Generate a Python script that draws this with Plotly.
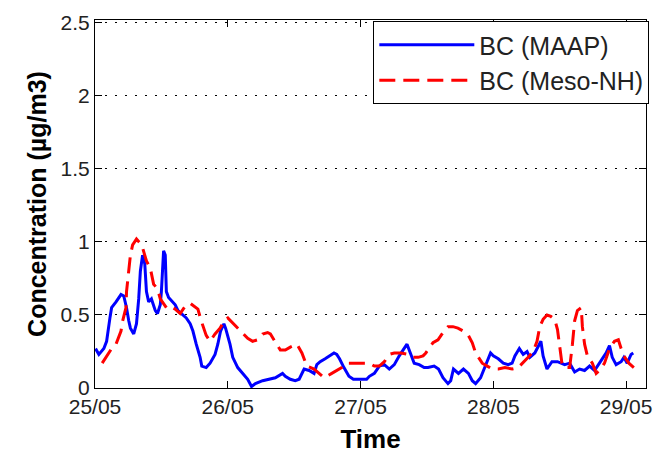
import plotly.graph_objects as go

# Time in hours since 25/05 00:00
maap_t = [0.1, 0.7, 1.6, 2.1, 2.7, 3.0, 3.8, 4.7, 5.2, 5.7, 6.1, 6.4, 7.0, 7.5, 7.9, 8.2, 8.6, 9.0, 9.3, 9.7,
          10.2, 10.9, 11.3, 11.8, 12.0, 12.4, 12.7, 12.9, 13.3, 13.8, 14.5, 15.0, 15.6, 16.5, 17.2, 17.7, 18.3,
          19.0, 19.3, 20.1, 20.8, 21.7, 22.2, 22.7, 23.3, 23.6, 24.4, 24.9, 25.8, 26.7, 27.6, 28.3, 29.0, 30.3,
          31.5, 32.6, 33.9, 34.4, 35.3, 36.2, 36.9, 37.8, 38.7, 39.6, 40.1, 40.7, 41.6, 42.4, 43.2, 43.7, 44.2,
          45.0, 45.9, 46.7, 47.8, 49.1, 49.6, 50.5, 51.4, 52.3, 53.2, 54.1, 55.0, 55.9, 56.4, 57.0, 57.7, 58.6,
          59.5, 60.2, 61.3, 62.1, 62.9, 63.8, 64.3, 64.8, 65.7, 66.6, 67.5, 68.2, 68.8, 69.7, 70.6, 71.5, 72.0,
          72.9, 73.8, 74.7, 75.4, 75.9, 76.7, 77.4, 78.1, 78.6, 79.5, 80.1, 80.6, 81.0, 81.7, 82.6, 83.6, 84.9,
          85.8, 86.7, 87.6, 88.5, 89.4, 90.3, 91.2, 92.4, 93.0, 93.5, 94.2, 95.1, 95.6, 96.2, 96.9, 97.3]
maap_v = [0.27, 0.23, 0.27, 0.32, 0.48, 0.55, 0.59, 0.64, 0.63, 0.55, 0.46, 0.41, 0.37, 0.44, 0.61, 0.80, 0.91, 0.85, 0.66, 0.59,
          0.61, 0.53, 0.51, 0.57, 0.66, 0.94, 0.91, 0.66, 0.62, 0.60, 0.57, 0.53, 0.51, 0.48, 0.44, 0.39, 0.30,
          0.21, 0.15, 0.14, 0.17, 0.23, 0.30, 0.39, 0.44, 0.41, 0.30, 0.21, 0.14, 0.10, 0.06, 0.01, 0.03, 0.05,
          0.06, 0.07, 0.10, 0.08, 0.06, 0.05, 0.06, 0.13, 0.12, 0.10, 0.16, 0.18, 0.20, 0.22, 0.24, 0.23, 0.20,
          0.14, 0.08, 0.06, 0.06, 0.06, 0.08, 0.10, 0.15, 0.16, 0.13, 0.16, 0.22, 0.27, 0.30, 0.24, 0.17, 0.16,
          0.14, 0.14, 0.15, 0.13, 0.07, 0.03, 0.05, 0.13, 0.10, 0.13, 0.10, 0.05, 0.03, 0.07, 0.15, 0.24, 0.22,
          0.20, 0.17, 0.16, 0.17, 0.22, 0.27, 0.23, 0.25, 0.21, 0.24, 0.29, 0.32, 0.22, 0.13, 0.18, 0.18, 0.16,
          0.17, 0.11, 0.13, 0.12, 0.15, 0.12, 0.17, 0.24, 0.29, 0.21, 0.16, 0.18, 0.21, 0.17, 0.23, 0.24]

meso_t = [1.3, 2.1, 3.0, 3.8, 4.7, 5.0, 5.6, 5.7, 6.1, 6.4, 6.8, 7.5, 8.2, 8.6, 9.3, 10.0, 10.6, 11.3, 11.8,
          12.4, 12.9, 13.6, 14.5, 15.4, 16.3, 17.2, 18.6, 19.2, 20.1, 20.8, 21.7, 22.6, 23.5, 24.0, 25.3, 26.3,
          27.6, 28.5, 29.4, 30.3, 31.2, 31.7, 32.6, 33.5, 34.4, 35.3, 36.5, 37.4, 38.3, 39.6, 40.5, 41.4, 42.8,
          43.7, 44.6, 45.5, 46.4, 47.8, 49.6, 50.5, 51.4, 52.3, 53.2, 54.1, 55.3, 56.6, 57.5, 58.4, 59.3, 59.8,
          61.1, 62.0, 62.9, 63.8, 64.7, 65.6, 66.6, 67.5, 68.2, 68.8, 70.0, 70.9, 71.8, 72.9, 74.1, 75.4, 76.5,
          78.3, 79.2, 79.9, 80.4, 81.0, 81.7, 82.4, 83.1, 83.6, 84.0, 84.4, 84.9, 85.8, 86.3, 86.7, 87.2, 87.9,
          88.1, 88.5, 89.0, 89.9, 90.6, 91.2, 92.1, 93.0, 93.9, 94.6, 95.1, 95.6, 96.5, 97.4]
meso_v = [0.17, 0.22, 0.27, 0.30, 0.39, 0.46, 0.55, 0.66, 0.80, 0.91, 0.98, 1.02, 0.99, 0.96, 0.87, 0.82, 0.71, 0.68, 0.61,
          0.58, 0.55, 0.56, 0.54, 0.51, 0.56, 0.58, 0.54, 0.46, 0.36, 0.32, 0.37, 0.41, 0.47, 0.48, 0.43, 0.39,
          0.34, 0.32, 0.33, 0.37, 0.38, 0.37, 0.31, 0.26, 0.26, 0.28, 0.30, 0.24, 0.15, 0.13, 0.10, 0.07, 0.10,
          0.12, 0.14, 0.17, 0.17, 0.17, 0.17, 0.15, 0.15, 0.18, 0.23, 0.24, 0.24, 0.23, 0.21, 0.21, 0.22, 0.24,
          0.31, 0.33, 0.38, 0.42, 0.42, 0.41, 0.39, 0.36, 0.31, 0.24, 0.17, 0.15, 0.13, 0.13, 0.14, 0.13, 0.14,
          0.21, 0.25, 0.32, 0.42, 0.47, 0.50, 0.49, 0.47, 0.40, 0.27, 0.17, 0.14, 0.14, 0.30, 0.46, 0.53, 0.55,
          0.42, 0.30, 0.22, 0.17, 0.10, 0.12, 0.17, 0.27, 0.32, 0.33, 0.27, 0.22, 0.17, 0.14]

tick_vals = [0, 24, 48, 72, 96]
tick_text = ["25/05", "26/05", "27/05", "28/05", "29/05"]
y_ticks = [0, 0.5, 1, 1.5, 2, 2.5]
y_text = ["0", "0.5", "1", "1.5", "2", "2.5"]

FONT = "Liberation Sans, Arial, sans-serif"

fig = go.Figure()
fig.add_trace(go.Scatter(x=maap_t, y=maap_v, mode="lines", name="BC (MAAP)", legendgroup="a",
                         line=dict(color="#0000ff", width=3)))
fig.add_trace(go.Scatter(x=meso_t, y=meso_v, mode="lines", name="BC (Meso-NH)", legendgroup="b",
                         line=dict(color="#ff0000", width=3, dash="16px,8px")))

fig.update_layout(
    width=663, height=463,
    margin=dict(l=95, r=11, t=18, b=75),
    paper_bgcolor="white", plot_bgcolor="white",
    font=dict(family=FONT, size=21, color="#222222"),
    legend=dict(x=1.006, y=0.997, xanchor="right", yanchor="top",
                bgcolor="white", bordercolor="black", borderwidth=1,
                font=dict(size=25), itemwidth=95, tracegroupgap=0,
                traceorder="grouped"),
    xaxis=dict(range=[0, 99.6], tickmode="array", tickvals=tick_vals, ticktext=tick_text,
               showgrid=False, zeroline=False, showline=True, linecolor="black", linewidth=1,
               mirror="ticks", ticks="inside", ticklen=7, tickcolor="black",
               title=dict(text="<b>Time</b>", font=dict(size=26, color="black"), standoff=12)),
    yaxis=dict(range=[0, 2.52], tickmode="array", tickvals=y_ticks, ticktext=y_text,
               showgrid=True, gridcolor="black", gridwidth=1, griddash="2px,8px",
               zeroline=False, showline=True, linecolor="black", linewidth=1,
               mirror="ticks", ticks="inside", ticklen=7, tickcolor="black",
               title=dict(text="<b>Concentration (µg/m3)</b>", font=dict(size=25, color="black"), standoff=6)),
)

fig.write_html("out.html")
